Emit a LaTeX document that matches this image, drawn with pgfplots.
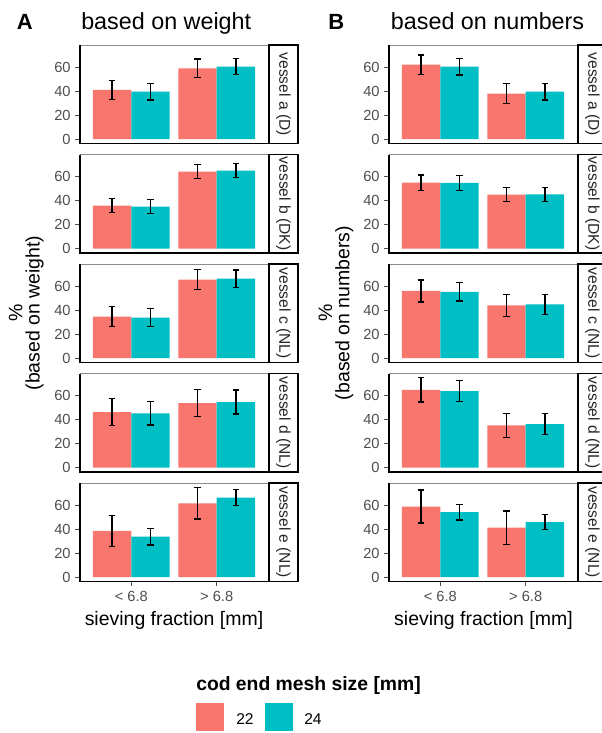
\documentclass[border=0pt]{standalone}
\usepackage{pgfplots}
\pgfplotsset{compat=1.18}
\usepackage{fontspec}
\setmainfont{Liberation Sans}

\definecolor{c22}{HTML}{F8766D}
\definecolor{c24}{HTML}{00BFC4}
\definecolor{tickgray}{HTML}{4D4D4D}
\definecolor{framegray}{HTML}{8C8C8C}

\pgfplotsset{
  facet/.style={
    scale only axis, width=141pt, height=73.875pt, anchor=north west,
    xmin=0.4, xmax=2.6, ymin=-3.75, ymax=78.5,
    ytick={0,20,40,60}, xtick=\empty,
    axis line style={framegray, line width=0.6pt},
    tick style={tickgray, line width=0.6pt},
    tick align=outside, major tick length=3.5pt,
    ytick pos=left, xtick pos=bottom,
    yticklabel style={font=\fontsize{11}{12}\selectfont, text=tickgray},
    xticklabel style={font=\fontsize{11}{12}\selectfont, text=tickgray},
    /pgf/number format/assume math mode=true,
    clip=false,
  },
  bottomfacet/.style={xtick={1,2}, xticklabels={{< 6.8},{> 6.8}}},
  % bars are placed at their dodged positions (category -/+ 0.225)
  bar22/.style={ybar, bar width=0.45, bar shift=0pt, fill=c22, draw=none},
  bar24/.style={ybar, bar width=0.45, bar shift=0pt, fill=c24, draw=none},
  errs/.style={draw=none, mark=none, forget plot,
    error bars/.cd, y dir=both, y explicit, error mark=|,
    error bar style={draw=black, line width=1pt},
    error mark options={draw=black, mark size=2.5pt, line width=1pt}},
}

% one facet: left edge (pt), row, strip label, mesh 22 data, mesh 24 data, extra keys
\newcommand\facet[6]{%
  \pgfmathsetmacro\facettop{-33.75-82.125*#2}%
  \begin{axis}[facet, at={(#1pt,\facettop pt)}, #6]
    \addplot[bar22] coordinates {#4};
    \addplot[bar24] coordinates {#5};
    \addplot[errs] coordinates {#4};
    \addplot[errs] coordinates {#5};
    \draw[black, line width=0.8pt] (rel axis cs:0,1) -- (rel axis cs:0,0) -- (rel axis cs:1,0);
  \end{axis}
  \pgfmathsetmacro\facetsx{#1+141.75}%
  \draw[black, line width=1.1pt, fill=white] (\facetsx pt,\facettop pt) rectangle ({\facetsx pt+21.75pt},{\facettop pt-73.875pt});
  \node[rotate=-90, font=\fontsize{11.7}{12}\selectfont, text=black!85] at ({\facetsx pt+10.9pt},{\facettop pt-36.9pt}) {#3};
}

\begin{document}
\begin{tikzpicture}
\useasboundingbox (0,0) rectangle (451.5pt,-549.75pt);
\clip (0,0) rectangle (451.5pt,-549.75pt);

% panel A: shares based on weight
\facet{60}{0}{vessel a (D)}{(0.775,41.0) +- (0,7.8) (1.775,59.0) +- (0,7.7)}{(1.225,39.5) +- (0,6.8) (2.225,60.5) +- (0,6.9)}{}
\facet{60}{1}{vessel b (DK)}{(0.775,35.8) +- (0,5.8) (1.775,64.2) +- (0,6.0)}{(1.225,35.0) +- (0,5.8) (2.225,65.0) +- (0,5.8)}{}
\facet{60}{2}{vessel c (NL)}{(0.775,34.6) +- (0,8.4) (1.775,65.4) +- (0,8.3)}{(1.225,33.8) +- (0,7.6) (2.225,66.2) +- (0,7.4)}{}
\facet{60}{3}{vessel d (NL)}{(0.775,46.2) +- (0,11.3) (1.775,53.8) +- (0,11.2)}{(1.225,45.3) +- (0,9.8) (2.225,54.7) +- (0,10.0)}{}
\facet{60}{4}{vessel e (NL)}{(0.775,38.5) +- (0,13.1) (1.775,61.5) +- (0,13.0)}{(1.225,33.7) +- (0,6.9) (2.225,66.3) +- (0,6.6)}{bottomfacet}

% panel B: shares based on numbers
\facet{291.75}{0}{vessel a (D)}{(0.775,62.1) +- (0,8.1) (1.775,37.9) +- (0,8.3)}{(1.225,60.5) +- (0,7.0) (2.225,39.5) +- (0,7.0)}{}
\facet{291.75}{1}{vessel b (DK)}{(0.775,55.0) +- (0,6.4) (1.775,45.0) +- (0,6.0)}{(1.225,54.8) +- (0,6.1) (2.225,45.2) +- (0,5.8)}{}
\facet{291.75}{2}{vessel c (NL)}{(0.775,56.0) +- (0,9.1) (1.775,44.0) +- (0,9.1)}{(1.225,55.3) +- (0,7.8) (2.225,44.7) +- (0,8.3)}{}
\facet{291.75}{3}{vessel d (NL)}{(0.775,64.8) +- (0,10.2) (1.775,35.2) +- (0,10.0)}{(1.225,63.7) +- (0,8.8) (2.225,36.3) +- (0,8.7)}{}
\facet{291.75}{4}{vessel e (NL)}{(0.775,58.8) +- (0,13.8) (1.775,41.2) +- (0,13.8)}{(1.225,54.1) +- (0,6.5) (2.225,45.9) +- (0,6.3)}{bottomfacet}

% panel letters and titles
\node[anchor=base west, font=\bfseries\fontsize{16.5}{18}\selectfont, inner sep=0] at (12.5pt,-22pt) {A};
\node[anchor=base west, font=\fontsize{17.5}{19}\selectfont, inner sep=0] at (60.75pt,-22pt) {based on weight};
\node[anchor=base west, font=\bfseries\fontsize{16.5}{18}\selectfont, inner sep=0] at (246pt,-22pt) {B};
\node[anchor=base west, font=\fontsize{17.5}{19}\selectfont, inner sep=0] at (293pt,-22pt) {based on numbers};

% y axis titles
\node[rotate=90, align=center, font=\fontsize{14.6}{13.1}\selectfont, inner sep=0] at (19.7pt,-234.75pt) {\%\\(based on weight)};
\node[rotate=90, align=center, font=\fontsize{14.6}{13.1}\selectfont, inner sep=0] at (252pt,-234.75pt) {\%\\(based on numbers)};

% x axis titles
\node[anchor=base, font=\fontsize{14.6}{16}\selectfont, inner sep=0] at (130.5pt,-469.3pt) {sieving fraction [mm]};
\node[anchor=base, font=\fontsize{14.6}{16}\selectfont, inner sep=0] at (362.6pt,-469.3pt) {sieving fraction [mm]};

% legend
\node[anchor=base west, font=\bfseries\fontsize{14.5}{16}\selectfont, inner sep=0] at (147pt,-517.5pt) {cod end mesh size [mm]};
\fill[c22] (147pt,-527.25pt) rectangle (168pt,-548.25pt);
\fill[c24] (198.75pt,-527.25pt) rectangle (219.75pt,-548.25pt);
\node[anchor=base west, font=\fontsize{11.7}{13}\selectfont, inner sep=0] at (177pt,-543pt) {22};
\node[anchor=base west, font=\fontsize{11.7}{13}\selectfont, inner sep=0] at (228pt,-543pt) {24};
\end{tikzpicture}
\end{document}
